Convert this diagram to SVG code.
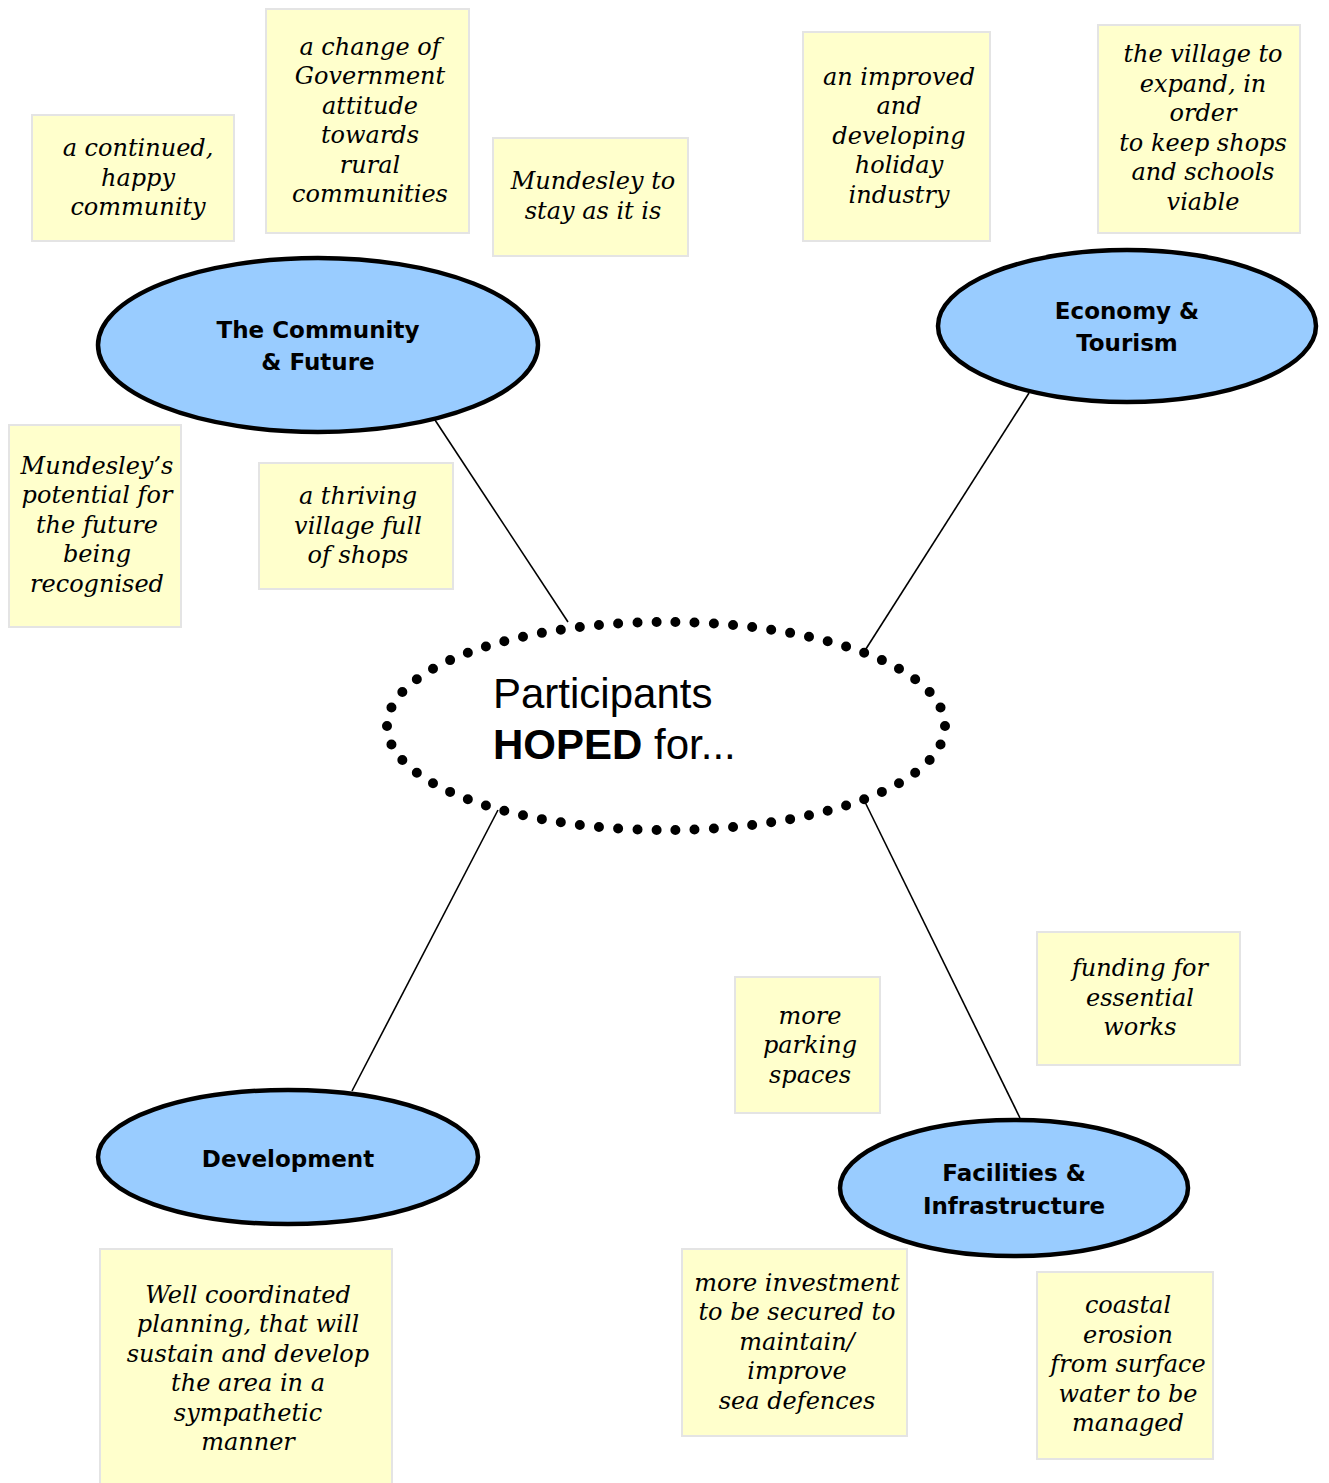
<svg xmlns="http://www.w3.org/2000/svg" width="1329" height="1483" viewBox="0 0 1329 1483">
<style>
.note{fill:#FFFFCC;stroke:#E4E4E4;stroke-width:2}
.nt{font-family:"DejaVu Serif",serif;font-style:italic;font-size:24px;fill:#000;text-anchor:middle}
.topic{fill:#99CCFF;stroke:#000;stroke-width:4.5}
.tt{font-family:"DejaVu Sans",sans-serif;font-weight:bold;font-size:23px;fill:#000;text-anchor:middle}
.conn{stroke:#000;stroke-width:1.6;fill:none}
.ct{font-family:"Liberation Sans",sans-serif;font-size:42px;fill:#000}
</style>
<rect width="1329" height="1483" fill="#fff"/>
<g id="connectors">
<line class="conn" x1="435" y1="420" x2="568" y2="622"/>
<line class="conn" x1="1029" y1="393" x2="864" y2="652"/>
<line class="conn" x1="498" y1="810" x2="352" y2="1091"/>
<line class="conn" x1="864" y1="800" x2="1020" y2="1118"/>
</g>
<g id="center">
<ellipse cx="666" cy="726" rx="279" ry="104" fill="#fff" stroke="#000" stroke-width="10" stroke-linecap="round" stroke-dasharray="0 1" pathLength="66"/>
<text class="ct" x="493" y="708">Participants</text>
<text class="ct" x="493" y="759"><tspan font-weight="bold">HOPED</tspan> for...</text>
</g>
<g id="community">
<ellipse class="topic" cx="318" cy="345" rx="220" ry="87"/>
<text class="tt" x="318" y="338">The Community</text>
<text class="tt" x="318" y="370">&amp; Future</text>
</g>
<g id="economy">
<ellipse class="topic" cx="1127" cy="326" rx="189" ry="76"/>
<text class="tt" x="1127" y="319">Economy &amp;</text>
<text class="tt" x="1127" y="351">Tourism</text>
</g>
<g id="development">
<ellipse class="topic" cx="288" cy="1157" rx="190" ry="67"/>
<text class="tt" x="288" y="1167">Development</text>
</g>
<g id="facilities">
<ellipse class="topic" cx="1014" cy="1188" rx="174" ry="68"/>
<text class="tt" x="1014" y="1181">Facilities &amp;</text>
<text class="tt" x="1014" y="1214">Infrastructure</text>
</g>
<g id="note1">
<rect class="note" x="32" y="115" width="202" height="126"/>
<text class="nt" x="138" y="156">a continued,</text>
<text class="nt" x="138" y="186">happy</text>
<text class="nt" x="138" y="215">community</text>
</g>
<g id="note2">
<rect class="note" x="266" y="9" width="203" height="224"/>
<text class="nt" x="370" y="55">a change of</text>
<text class="nt" x="370" y="84">Government</text>
<text class="nt" x="370" y="114">attitude</text>
<text class="nt" x="370" y="143">towards</text>
<text class="nt" x="370" y="173">rural</text>
<text class="nt" x="370" y="202">communities</text>
</g>
<g id="note3">
<rect class="note" x="493" y="138" width="195" height="118"/>
<text class="nt" x="593" y="189">Mundesley to</text>
<text class="nt" x="593" y="219">stay as it is</text>
</g>
<g id="note4">
<rect class="note" x="803" y="32" width="187" height="209"/>
<text class="nt" x="899" y="85">an improved</text>
<text class="nt" x="899" y="114">and</text>
<text class="nt" x="899" y="144">developing</text>
<text class="nt" x="899" y="173">holiday</text>
<text class="nt" x="899" y="203">industry</text>
</g>
<g id="note5">
<rect class="note" x="1098" y="25" width="202" height="208"/>
<text class="nt" x="1203" y="62">the village to</text>
<text class="nt" x="1203" y="92">expand, in</text>
<text class="nt" x="1203" y="121">order</text>
<text class="nt" x="1203" y="151">to keep shops</text>
<text class="nt" x="1203" y="180">and schools</text>
<text class="nt" x="1203" y="210">viable</text>
</g>
<g id="note6">
<rect class="note" x="9" y="425" width="172" height="202"/>
<text class="nt" x="97" y="474">Mundesley’s</text>
<text class="nt" x="97" y="503">potential for</text>
<text class="nt" x="97" y="533">the future</text>
<text class="nt" x="97" y="562">being</text>
<text class="nt" x="97" y="592">recognised</text>
</g>
<g id="note7">
<rect class="note" x="259" y="463" width="194" height="126"/>
<text class="nt" x="358" y="504">a thriving</text>
<text class="nt" x="358" y="534">village full</text>
<text class="nt" x="358" y="563">of shops</text>
</g>
<g id="note8">
<rect class="note" x="735" y="977" width="145" height="136"/>
<text class="nt" x="810" y="1024">more</text>
<text class="nt" x="810" y="1053">parking</text>
<text class="nt" x="810" y="1083">spaces</text>
</g>
<g id="note9">
<rect class="note" x="1037" y="932" width="203" height="133"/>
<text class="nt" x="1140" y="976">funding for</text>
<text class="nt" x="1140" y="1006">essential</text>
<text class="nt" x="1140" y="1035">works</text>
</g>
<g id="note10">
<rect class="note" x="100" y="1249" width="292" height="240"/>
<text class="nt" x="248" y="1303">Well coordinated</text>
<text class="nt" x="248" y="1332">planning, that will</text>
<text class="nt" x="248" y="1362">sustain and develop</text>
<text class="nt" x="248" y="1391">the area in a</text>
<text class="nt" x="248" y="1421">sympathetic</text>
<text class="nt" x="248" y="1450">manner</text>
</g>
<g id="note11">
<rect class="note" x="682" y="1249" width="225" height="187"/>
<text class="nt" x="797" y="1291">more investment</text>
<text class="nt" x="797" y="1320">to be secured to</text>
<text class="nt" x="797" y="1350">maintain/</text>
<text class="nt" x="797" y="1379">improve</text>
<text class="nt" x="797" y="1409">sea defences</text>
</g>
<g id="note12">
<rect class="note" x="1037" y="1272" width="176" height="187"/>
<text class="nt" x="1128" y="1313">coastal</text>
<text class="nt" x="1128" y="1343">erosion</text>
<text class="nt" x="1128" y="1372">from surface</text>
<text class="nt" x="1128" y="1402">water to be</text>
<text class="nt" x="1128" y="1431">managed</text>
</g>
</svg>
